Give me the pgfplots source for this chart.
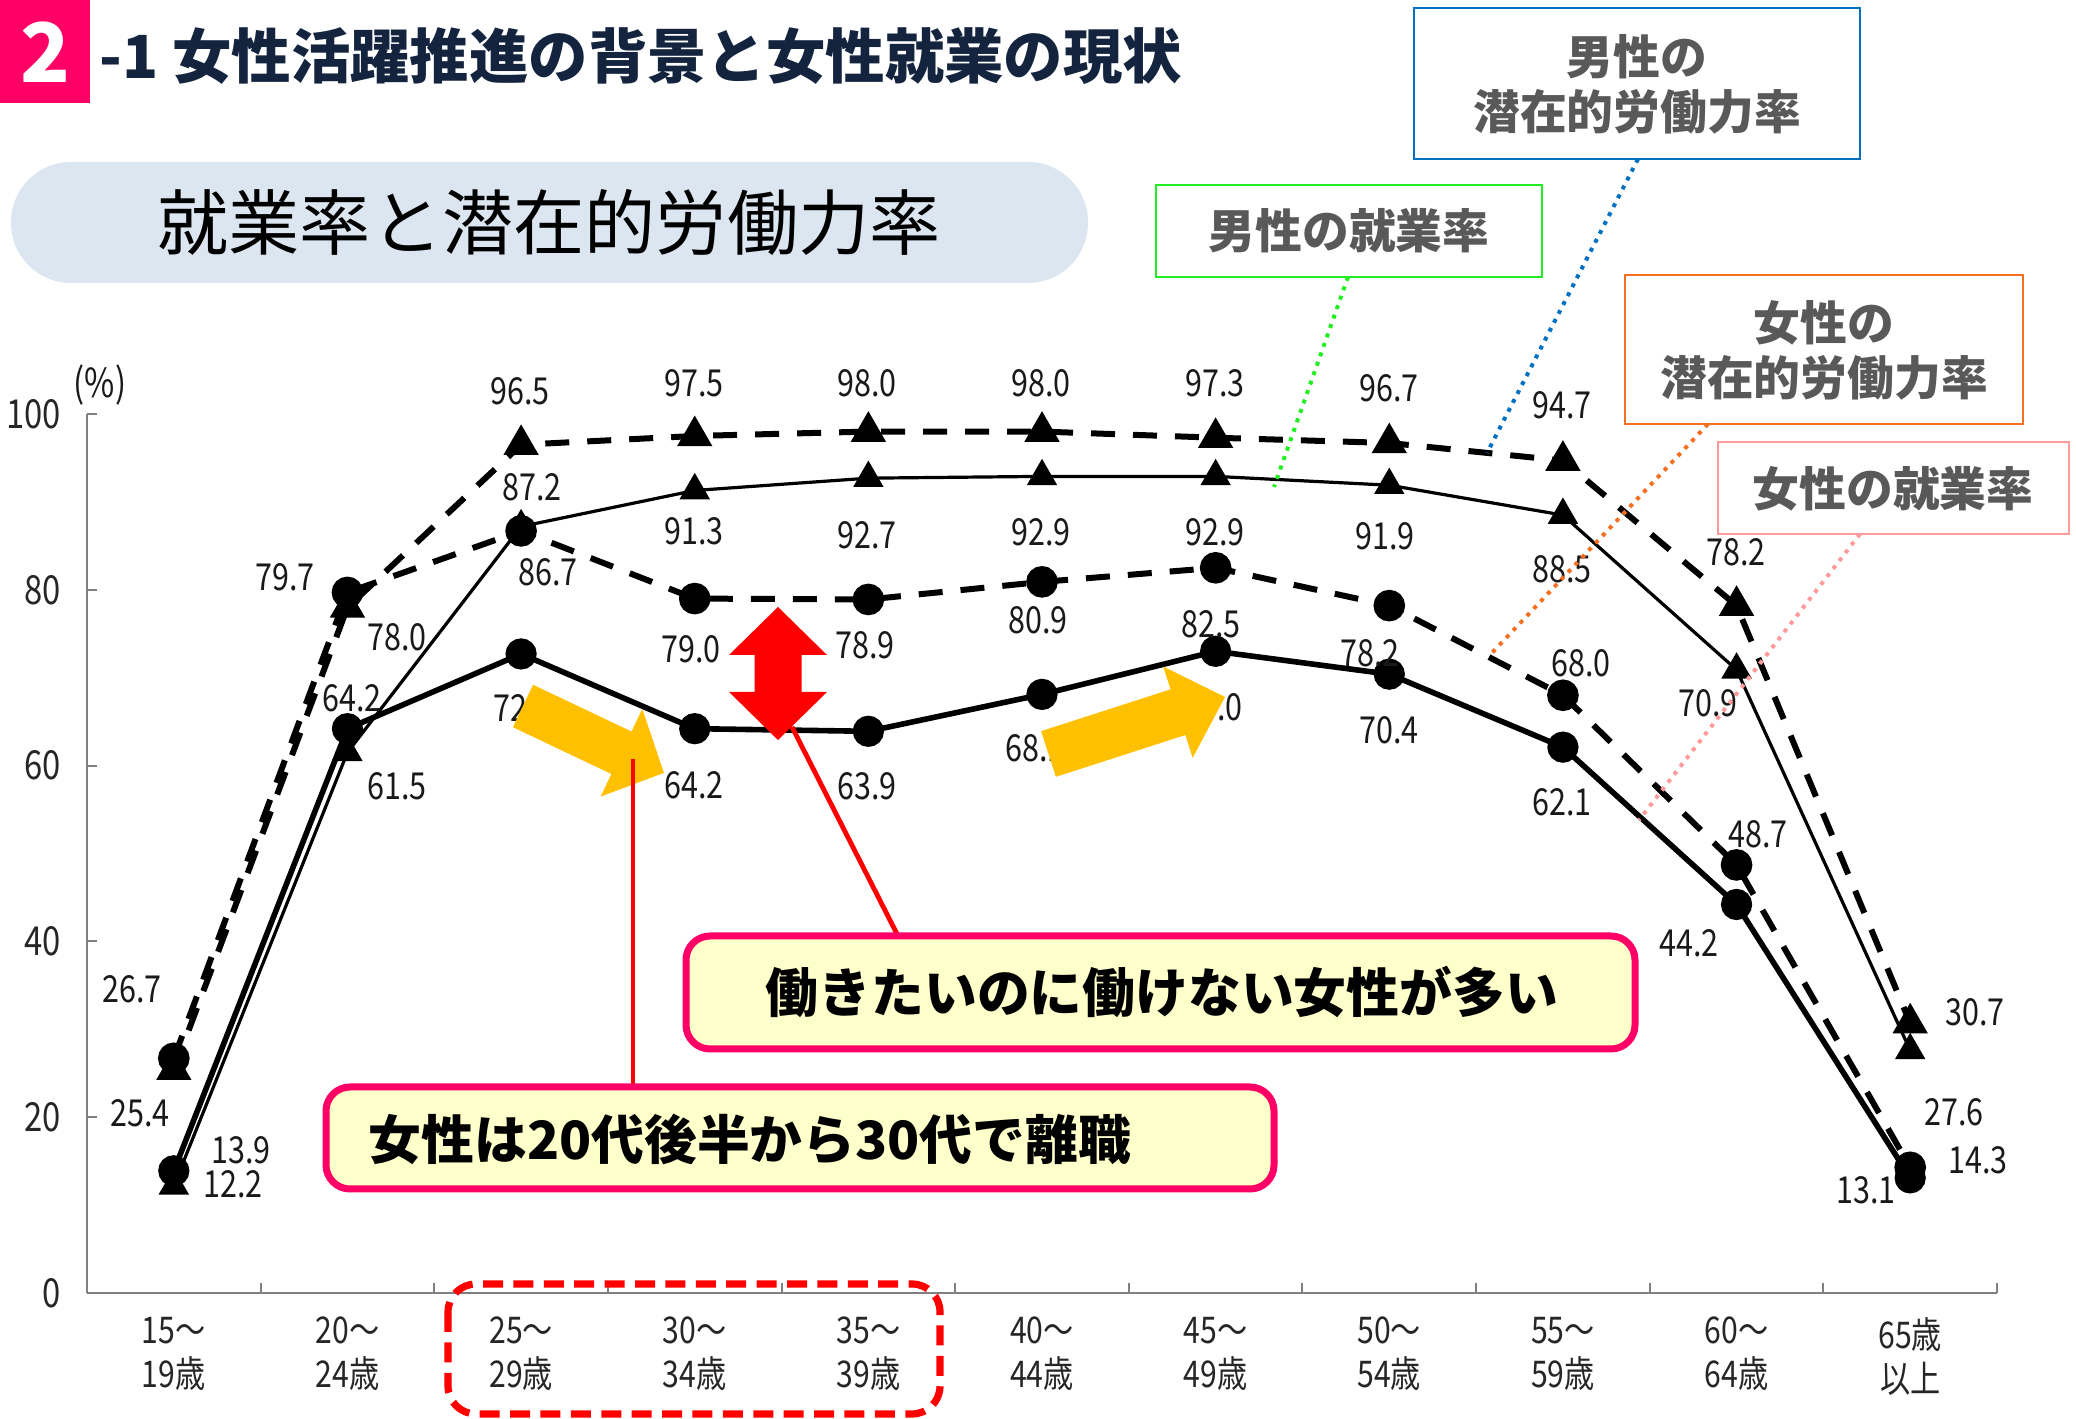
\documentclass[border=0pt]{standalone}
\usepackage{fontspec}
\usepackage{pgfplots}
\pgfplotsset{compat=1.18}
\setmainfont{Noto Sans CJK JP}
\newfontfamily\numf{Noto Sans CJK JP}[FakeStretch=0.82]
\definecolor{hotpink}{HTML}{FF0066}
\definecolor{navy}{HTML}{14243F}
\definecolor{pill}{HTML}{DCE6F1}
\definecolor{boxgreen}{HTML}{22EE22}
\definecolor{boxblue}{HTML}{0070C0}
\definecolor{boxorange}{HTML}{F47020}
\definecolor{boxpink}{HTML}{FF9A9A}
\definecolor{txtgrey}{HTML}{595959}
\definecolor{cream}{HTML}{FFFFCC}
\definecolor{arrowyel}{HTML}{FFC000}
\definecolor{axisgrey}{HTML}{808080}
\tikzset{lab/.style={font=\numf\fontsize{9.3}{11}\selectfont, inner sep=0pt, text=black!90}}
\begin{document}
\begin{tikzpicture}
\begin{scope}[x=0.25pt,y=-0.25pt]
% header
\fill[hotpink] (0,0) rectangle (90,103);
\node[text=white,font=\bfseries\fontsize{20.5}{22}\selectfont] at (45,52) {2};
\node[anchor=west,inner sep=0pt,text=navy,font=\bfseries\fontsize{14.85}{16}\selectfont] at (99,56) {-1 女性活躍推進の背景と女性就業の現状};
\fill[pill,rounded corners=15pt] (11,162) rectangle (1088,283);
\node[font=\fontsize{17.8}{20}\selectfont] at (549,222) {就業率と潜在的労働力率};
% legend boxes
\draw[boxgreen,line width=0.6pt] (1156,185) rectangle (1542,277);
\node[text=txtgrey,font=\bfseries\fontsize{11.7}{13.75}\selectfont] at (1349,231) {男性の就業率};
\draw[boxblue,line width=0.6pt] (1414,8) rectangle (1860,159);
\node[text=txtgrey,font=\bfseries\fontsize{11.7}{13.75}\selectfont,align=center] at (1637,84) {男性の\\潜在的労働力率};
\draw[boxorange,line width=0.6pt] (1625,275) rectangle (2023,424);
\node[text=txtgrey,font=\bfseries\fontsize{11.7}{13.75}\selectfont,align=center] at (1824,350) {女性の\\潜在的労働力率};
\draw[boxpink,line width=0.6pt] (1718,442) rectangle (2069,534);
\node[text=txtgrey,font=\bfseries\fontsize{11.7}{13.75}\selectfont] at (1893,489) {女性の就業率};
\end{scope}

\begin{axis}[
 at={(21.75pt,-323.25pt)}, anchor=south west,
 scale only axis, width=477.5pt, height=219.75pt,
 xmin=-0.5, xmax=10.5, ymin=0, ymax=100,
 axis x line*=bottom, axis y line*=left,
 axis line style={draw=axisgrey, line width=0.5pt},
 every tick/.style={draw=axisgrey, line width=0.5pt},
 tick align=inside,
 xtick={0,...,10},
 xticklabels={{15～\\19歳},{20～\\24歳},{25～\\29歳},{30～\\34歳},{35～\\39歳},{40～\\44歳},{45～\\49歳},{50～\\54歳},{55～\\59歳},{60～\\64歳},{65歳\\以上}},
 major x tick style={draw=none},
 minor xtick={0.5,1.5,...,10.5},
 minor tick length=2.6pt,
 major tick length=2.4pt,
 ytick={0,20,...,100},
 xticklabel style={align=center, font=\numf\fontsize{9.2}{11}\selectfont, text=black!85, yshift=-2.5pt},
 yticklabel style={font=\numf\fontsize{10}{12}\selectfont, text=black!85, xshift=-3pt},
 /pgf/number format/assume math mode=true,
 clip=false,
]
% male potential
\addplot[black, line width=1.5pt, dash pattern=on 6pt off 4.5pt, mark=triangle*, mark size=3.6pt, mark options={solid}]
 coordinates {(0,25.4)(1,78.0)(2,96.5)(3,97.5)(4,98.0)(5,98.0)(6,97.3)(7,96.7)(8,94.7)(9,78.2)(10,30.7)};
% female potential
\addplot[black, line width=1.5pt, dash pattern=on 6pt off 4.5pt, mark=*, mark size=3.2pt, mark options={solid}]
 coordinates {(0,26.7)(1,79.7)(2,86.7)(3,79.0)(4,78.9)(5,80.9)(6,82.5)(7,78.2)(8,68.0)(9,48.7)(10,14.3)};
% male employment
\addplot[black, line width=0.8pt, mark=triangle*, mark size=3.6pt]
 coordinates {(0,12.2)(1,61.5)(2,87.2)(3,91.3)(4,92.7)(5,92.9)(6,92.9)(7,91.9)(8,88.5)(9,70.9)(10,27.6)};
% female employment
\addplot[black, line width=1.4pt, mark=*, mark size=3.2pt]
 coordinates {(0,13.9)(1,64.2)(2,72.7)(3,64.2)(4,63.9)(5,68.1)(6,73.0)(7,70.4)(8,62.1)(9,44.2)(10,13.1)};
\end{axis}

\begin{scope}[x=0.25pt,y=-0.25pt]
\node[lab,font=\numf\fontsize{10}{11}\selectfont] at (100,385) {(\%)};
% male potential labels
\node[lab] at (140,1113) {25.4};
\node[lab] at (397,637) {78.0};
\node[lab] at (520,391) {96.5};
\node[lab] at (694,383) {97.5};
\node[lab] at (867,383) {98.0};
\node[lab] at (1041,383) {98.0};
\node[lab] at (1215,383) {97.3};
\node[lab] at (1389,388) {96.7};
\node[lab] at (1562,405) {94.7};
\node[lab] at (1736,552) {78.2};
\node[lab] at (1975,1012) {30.7};
% male employment labels
\node[lab] at (233,1184) {12.2};
\node[lab] at (397,786) {61.5};
\node[lab] at (532,487) {87.2};
\node[lab] at (694,531) {91.3};
\node[lab] at (867,535) {92.7};
\node[lab] at (1041,532) {92.9};
\node[lab] at (1215,532) {92.9};
\node[lab] at (1385,536) {91.9};
\node[lab] at (1562,569) {88.5};
\node[lab] at (1708,703) {70.9};
\node[lab] at (1954,1112) {27.6};
% female potential labels
\node[lab] at (132,989) {26.7};
\node[lab] at (285,577) {79.7};
\node[lab] at (548,572) {86.7};
\node[lab] at (691,649) {79.0};
\node[lab] at (865,645) {78.9};
\node[lab] at (1038,620) {80.9};
\node[lab] at (1211,624) {82.5};
\node[lab] at (1370,653) {78.2};
\node[lab] at (1581,663) {68.0};
\node[lab] at (1758,834) {48.7};
\node[lab] at (1978,1160) {14.3};
% female employment labels
\node[lab] at (241,1150) {13.9};
\node[lab] at (352,698) {64.2};
\node[lab] at (523,708) {72.7};
\node[lab] at (694,785) {64.2};
\node[lab] at (867,786) {63.9};
\node[lab] at (1035,748) {68.1};
\node[lab] at (1213,707) {73.0};
\node[lab] at (1389,730) {70.4};
\node[lab] at (1562,802) {62.1};
\node[lab] at (1689,943) {44.2};
\node[lab] at (1866,1190) {13.1};
% dotted leader lines
\draw[boxgreen,line width=1pt,dash pattern=on 1pt off 1.5pt] (1348,277) -- (1274,487);
\draw[boxblue,line width=1pt,dash pattern=on 1pt off 1.5pt] (1638,159) -- (1487,453);
\draw[boxorange,line width=1pt,dash pattern=on 1pt off 1.5pt] (1708,424) -- (1490,655);
\draw[boxpink,line width=1pt,dash pattern=on 1pt off 1.5pt] (1860,534) -- (1639,820);
% yellow arrows
\begin{scope}[shift={(523,706)},rotate=-25.4]
\fill[arrowyel] (0,-23.5) -- (109,-23.5) -- (109,-48.5) -- (156,0) -- (109,48.5) -- (109,23.5) -- (0,23.5) -- cycle;
\end{scope}
\begin{scope}[shift={(1048.5,754)},rotate=17.9]
\fill[arrowyel] (0,-24) -- (136,-24) -- (136,-48) -- (185.5,0) -- (136,48) -- (136,24) -- (0,24) -- cycle;
\end{scope}
% red double arrow
\fill[red] (778,607) -- (827,655) -- (801.5,655) -- (801.5,692) -- (827,692) -- (778,740) -- (729,692) -- (754.5,692) -- (754.5,655) -- (729,655) -- cycle;
% red leader lines
\draw[red,line width=1.2pt] (633,1087) -- (633,759);
\draw[red,line width=1.2pt] (898,936) -- (792,727);
% callouts
\draw[hotpink,fill=cream,line width=1.75pt,rounded corners=6pt] (686,936) rectangle (1635,1049);
\node[anchor=west,inner sep=0pt,font=\bfseries\fontsize{13.2}{15}\selectfont] at (765,992) {働きたいのに働けない女性が多い};
\draw[hotpink,fill=cream,line width=1.75pt,rounded corners=6pt] (326,1087) rectangle (1274,1189);
\node[anchor=west,inner sep=0pt,font=\bfseries\fontsize{13.2}{15}\selectfont] at (368,1139) {女性は20代後半から30代で離職};
% dashed red frame
\draw[red,line width=1.8pt,dash pattern=on 5pt off 2.6pt,rounded corners=7pt] (448,1284) rectangle (940,1414);
\end{scope}
\pgfresetboundingbox
\path[use as bounding box] (0pt,0pt) rectangle (519pt,-354.75pt);
\end{tikzpicture}
\end{document}
